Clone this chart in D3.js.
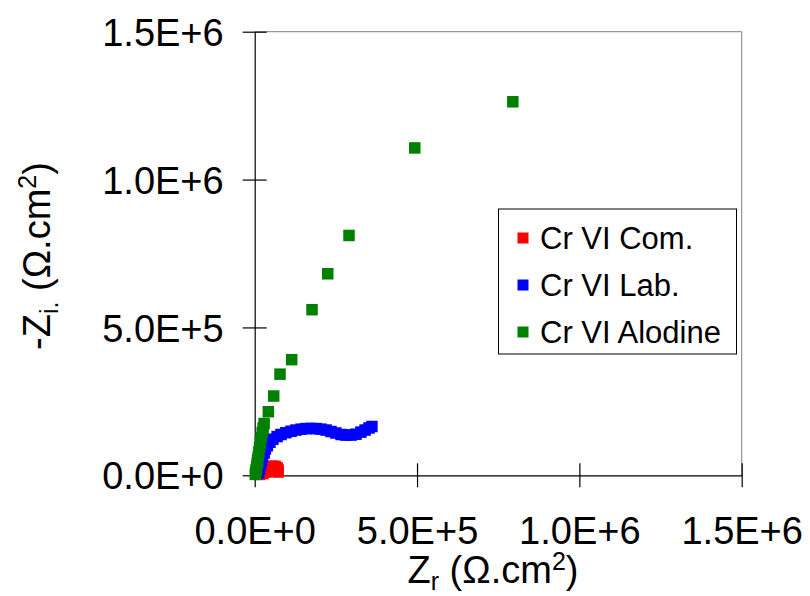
<!DOCTYPE html>
<html>
<head>
<meta charset="utf-8">
<script src="https://cdn.jsdelivr.net/npm/d3@7"></script>
<style>
  html, body { margin: 0; padding: 0; background: #fff; }
  svg { display: block; font-family: "Liberation Sans", Arial, sans-serif; }
</style>
</head>
<body>
<svg id="chart" width="810" height="596"></svg>
<script>
// ---- data (Ω.cm²) ----
const seriesNames = ["Cr VI Com.", "Cr VI Lab.", "Cr VI Alodine"];
const seriesColors = ["#ff0000", "#0000ff", "#008000"];

const comZr = [15000, 25000, 35000, 41000, 47000, 55000, 63000, 69000, 72000, 72000];
const comZi = [3000, 6000, 11000, 21000, 28000, 31000, 30000, 25000, 18000, 11000];

const labZr = [12000, 15000, 18000, 21000, 24000, 29000, 33000, 39000, 47000, 56000, 69000, 81000, 96000,
  112000, 127000, 143000, 158000, 173000, 189000, 204000, 220000, 235000, 250000, 266000, 281000, 297000,
  312000, 327000, 340000, 352000, 361000];
const labZi = [8000, 21000, 35000, 48000, 62000, 75000, 89000, 100000, 112000, 122000, 131000, 138000, 144000,
  149000, 153000, 156000, 158000, 158500, 158000, 156000, 153000, 148000, 143000, 138000, 136000, 136000,
  139000, 146000, 153000, 160000, 165000];

const aloZr = [2000, 3000, 4500, 6000, 7500, 9000, 11000, 13000, 15000, 17500, 20000, 23000, 26000, 29000,
  42000, 58500, 78000, 114000, 176600, 225000, 290500, 493000, 795000];
const aloZi = [3000, 10000, 19000, 29000, 40000, 52000, 65000, 79000, 94000, 110000, 127000, 145000, 160000, 175000,
  215000, 268000, 342000, 391000, 560000, 681500, 811000, 1107000, 1263000];

const xTicks = [0, 500000, 1000000, 1500000];
const yTicks = [0, 500000, 1000000, 1500000];
const tickLabels = ["0.0E+0", "5.0E+5", "1.0E+6", "1.5E+6"];

const series = [
  { name: seriesNames[0], color: seriesColors[0], zr: comZr, zi: comZi },
  { name: seriesNames[1], color: seriesColors[1], zr: labZr, zi: labZi },
  { name: seriesNames[2], color: seriesColors[2], zr: aloZr, zi: aloZi }
];

// ---- layout ----
const svg = d3.select("#chart");
const pL = 254.7, pR = 741.7, pT = 31.7, pB = 475.3;
const x = d3.scaleLinear().domain([0, 1500000]).range([pL, pR]);
const y = d3.scaleLinear().domain([0, 1500000]).range([pB, pT]);

// plot border (top & right) grey
svg.append("line").attr("x1", pL).attr("x2", pR).attr("y1", pT).attr("y2", pT)
  .attr("stroke", "#808080").attr("stroke-width", 1);
svg.append("line").attr("x1", pR).attr("x2", pR).attr("y1", pT).attr("y2", pB)
  .attr("stroke", "#808080").attr("stroke-width", 1);

// axes with crossing ticks
const xAxis = svg.append("g").attr("transform", `translate(0,${pB})`)
  .call(d3.axisBottom(x).tickValues(xTicks).tickFormat(d => tickLabels[xTicks.indexOf(d)]).tickSizeInner(12).tickSizeOuter(0));
xAxis.selectAll(".tick line").attr("y1", -12).attr("y2", 12);
xAxis.selectAll("text").attr("y", 0).attr("dy", "1.795em").attr("font-size", 38)
  .attr("font-family", "Liberation Sans, Arial, sans-serif").attr("fill", "#000");

const yAxis = svg.append("g").attr("transform", `translate(${pL},0)`)
  .call(d3.axisLeft(y).tickValues(yTicks).tickFormat(d => tickLabels[yTicks.indexOf(d)]).tickSizeInner(12).tickSizeOuter(0));
yAxis.selectAll(".tick line").attr("x1", -12).attr("x2", 12);
yAxis.selectAll("text").attr("x", -31).attr("dy", "0.36em").attr("font-size", 38)
  .attr("font-family", "Liberation Sans, Arial, sans-serif").attr("fill", "#000");

svg.selectAll(".domain").attr("stroke", "#000").attr("stroke-width", 1.2);
svg.selectAll(".tick line").attr("stroke", "#000").attr("stroke-width", 1.2);

// markers
const ms = 11.5;
series.forEach(s => {
  svg.append("g").selectAll("rect").data(s.zr.map((v, i) => [v, s.zi[i]])).join("rect")
    .attr("x", d => x(d[0]) - ms / 2).attr("y", d => y(d[1]) - ms / 2)
    .attr("width", ms).attr("height", ms).attr("fill", s.color);
});

// axis titles
const xt = svg.append("text").attr("x", 493).attr("y", 583).attr("text-anchor", "middle")
  .attr("font-size", 38).attr("fill", "#000");
xt.append("tspan").text("Z");
xt.append("tspan").attr("font-size", 25).attr("dy", 7).text("r");
xt.append("tspan").attr("dy", -7).text(" (Ω.cm");
xt.append("tspan").attr("font-size", 25).attr("dy", -13).text("2");
xt.append("tspan").attr("dy", 13).text(")");

const yt = svg.append("text").attr("transform", "translate(50,256) rotate(-90)").attr("text-anchor", "middle")
  .attr("font-size", 38).attr("fill", "#000");
yt.append("tspan").text("-Z");
yt.append("tspan").attr("font-size", 25).attr("dy", 8).text("i.");
yt.append("tspan").attr("dy", -8).text(" (Ω.cm");
yt.append("tspan").attr("font-size", 25).attr("dy", -14).text("2");
yt.append("tspan").attr("dy", 14).text(")");

// legend
const lg = svg.append("g");
lg.append("rect").attr("x", 498.5).attr("y", 209).attr("width", 238).attr("height", 145)
  .attr("fill", "#fff").attr("stroke", "#000").attr("stroke-width", 1);
series.forEach((s, i) => {
  const cy = 238 + i * 47;
  lg.append("rect").attr("x", 517.5).attr("y", cy - 5.5).attr("width", 11).attr("height", 11).attr("fill", s.color);
  lg.append("text").attr("x", 540).attr("y", cy + 11).attr("font-size", 31).attr("fill", "#000").text(s.name);
});
</script>
</body>
</html>
